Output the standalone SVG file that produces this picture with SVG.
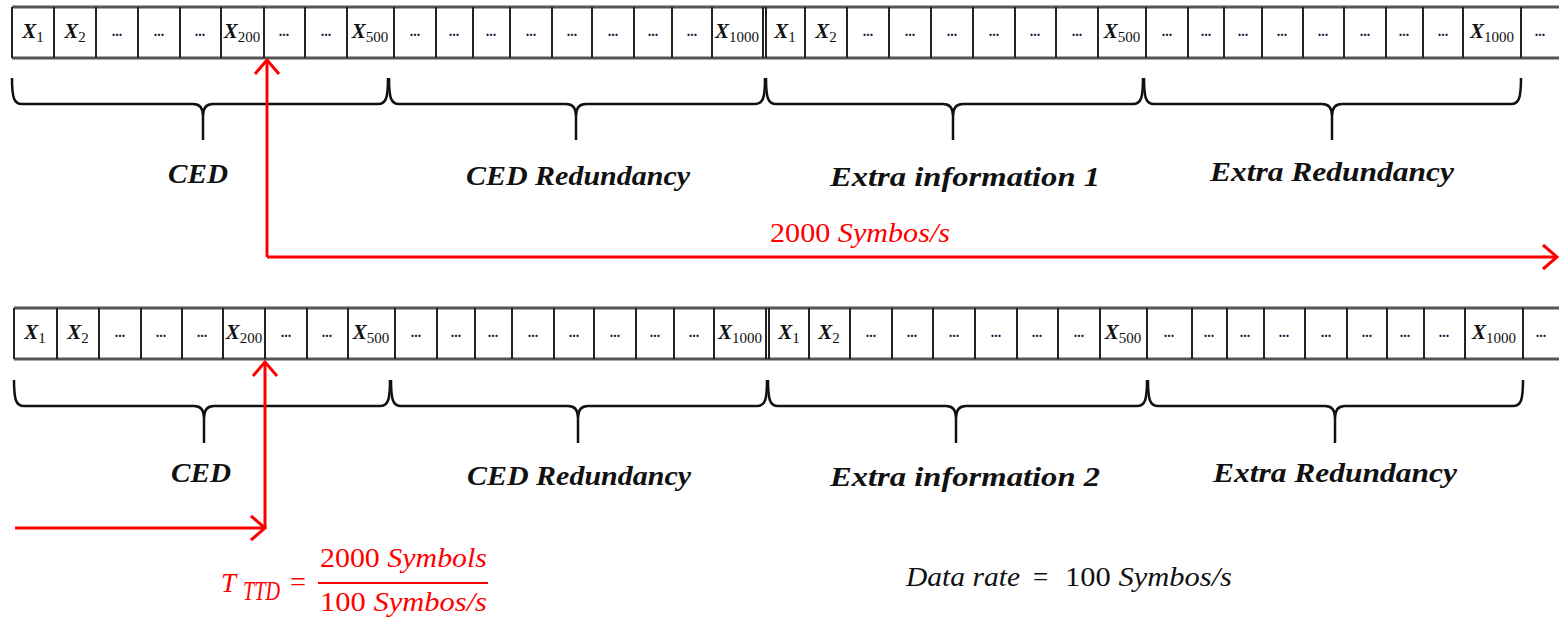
<svg xmlns="http://www.w3.org/2000/svg" width="1559" height="621" viewBox="0 0 1559 621">
<style>
.gh{stroke:#555;stroke-width:3}
.gv{stroke:#222;stroke-width:2}
.x{font-family:"Liberation Serif",serif;font-style:italic;font-weight:bold;font-size:21px;fill:#111;text-anchor:middle}
.sub{font-style:normal;font-weight:normal;font-size:15px}
.d{font-family:"Liberation Serif",serif;font-weight:bold;font-size:14px;fill:#1a1a3a;text-anchor:middle}
.brace{fill:none;stroke:#111;stroke-width:2.5}
.lbl{font-family:"Liberation Serif",serif;font-style:italic;font-weight:bold;font-size:27px;fill:#111}
.red{stroke:#ff0000;stroke-width:3;fill:none}
.m{font-family:"Liberation Serif",serif;font-size:27px}
.it{font-style:italic}
</style>
<defs>
<marker id="chev" markerUnits="userSpaceOnUse" viewBox="0 0 18 28" refX="16" refY="14" markerWidth="18" markerHeight="28" orient="auto">
<path d="M2,2 L16,14 L2,26" fill="none" stroke="#ff0000" stroke-width="3"/>
</marker>
</defs>
<rect width="1559" height="621" fill="#fff"/>

<!-- upper symbol row -->
<g id="row1">
<line class="gh" x1="12" y1="7" x2="1559" y2="7"/>
<line class="gh" x1="12" y1="58" x2="1559" y2="58"/>
<g class="gv">
<line x1="12" y1="7" x2="12" y2="58"/><line x1="54" y1="7" x2="54" y2="58"/><line x1="96" y1="7" x2="96" y2="58"/><line x1="138" y1="7" x2="138" y2="58"/><line x1="180" y1="7" x2="180" y2="58"/><line x1="221" y1="7" x2="221" y2="58"/><line x1="264" y1="7" x2="264" y2="58"/><line x1="305" y1="7" x2="305" y2="58"/><line x1="347" y1="7" x2="347" y2="58"/><line x1="394" y1="7" x2="394" y2="58"/>
<line x1="436" y1="7" x2="436" y2="58"/><line x1="473" y1="7" x2="473" y2="58"/><line x1="510" y1="7" x2="510" y2="58"/><line x1="552" y1="7" x2="552" y2="58"/><line x1="592" y1="7" x2="592" y2="58"/><line x1="634" y1="7" x2="634" y2="58"/><line x1="672" y1="7" x2="672" y2="58"/><line x1="712" y1="7" x2="712" y2="58"/><line x1="763" y1="7" x2="763" y2="58"/>
<line x1="766" y1="7" x2="766" y2="58"/><line x1="805" y1="7" x2="805" y2="58"/><line x1="847" y1="7" x2="847" y2="58"/><line x1="889" y1="7" x2="889" y2="58"/><line x1="931" y1="7" x2="931" y2="58"/><line x1="973" y1="7" x2="973" y2="58"/><line x1="1015" y1="7" x2="1015" y2="58"/><line x1="1056" y1="7" x2="1056" y2="58"/><line x1="1098" y1="7" x2="1098" y2="58"/><line x1="1146" y1="7" x2="1146" y2="58"/>
<line x1="1188" y1="7" x2="1188" y2="58"/><line x1="1224" y1="7" x2="1224" y2="58"/><line x1="1262" y1="7" x2="1262" y2="58"/><line x1="1303" y1="7" x2="1303" y2="58"/><line x1="1344" y1="7" x2="1344" y2="58"/><line x1="1386" y1="7" x2="1386" y2="58"/><line x1="1423" y1="7" x2="1423" y2="58"/><line x1="1463" y1="7" x2="1463" y2="58"/><line x1="1521" y1="7" x2="1521" y2="58"/>
</g>
<text class="x" x="33" y="38">X<tspan class="sub" dy="4">1</tspan></text>
<text class="x" x="75" y="38">X<tspan class="sub" dy="4">2</tspan></text>
<text class="d" x="117" y="36">...</text><text class="d" x="159" y="36">...</text><text class="d" x="200" y="36">...</text>
<text class="x" x="242" y="38">X<tspan class="sub" dy="4">200</tspan></text>
<text class="d" x="284" y="36">...</text><text class="d" x="326" y="36">...</text>
<text class="x" x="370" y="38">X<tspan class="sub" dy="4">500</tspan></text>
<text class="d" x="415" y="36">...</text><text class="d" x="454" y="36">...</text><text class="d" x="491" y="36">...</text><text class="d" x="531" y="36">...</text><text class="d" x="572" y="36">...</text><text class="d" x="613" y="36">...</text><text class="d" x="653" y="36">...</text><text class="d" x="692" y="36">...</text>
<text class="x" x="737" y="38">X<tspan class="sub" dy="4">1000</tspan></text>
<text class="x" x="785" y="38">X<tspan class="sub" dy="4">1</tspan></text>
<text class="x" x="826" y="38">X<tspan class="sub" dy="4">2</tspan></text>
<text class="d" x="868" y="36">...</text><text class="d" x="910" y="36">...</text><text class="d" x="952" y="36">...</text><text class="d" x="994" y="36">...</text><text class="d" x="1035" y="36">...</text><text class="d" x="1077" y="36">...</text>
<text class="x" x="1122" y="38">X<tspan class="sub" dy="4">500</tspan></text>
<text class="d" x="1167" y="36">...</text><text class="d" x="1206" y="36">...</text><text class="d" x="1243" y="36">...</text><text class="d" x="1282" y="36">...</text><text class="d" x="1323" y="36">...</text><text class="d" x="1365" y="36">...</text><text class="d" x="1404" y="36">...</text><text class="d" x="1443" y="36">...</text>
<text class="x" x="1492" y="38">X<tspan class="sub" dy="4">1000</tspan></text>
<text class="d" x="1540" y="36">...</text>
</g>

<!-- lower symbol row -->
<g id="row2">
<line class="gh" x1="14" y1="308" x2="1559" y2="308"/>
<line class="gh" x1="14" y1="359" x2="1559" y2="359"/>
<g class="gv">
<line x1="14" y1="308" x2="14" y2="359"/><line x1="57" y1="308" x2="57" y2="359"/><line x1="99" y1="308" x2="99" y2="359"/><line x1="141" y1="308" x2="141" y2="359"/><line x1="182" y1="308" x2="182" y2="359"/><line x1="223" y1="308" x2="223" y2="359"/><line x1="265" y1="308" x2="265" y2="359"/><line x1="307" y1="308" x2="307" y2="359"/><line x1="348" y1="308" x2="348" y2="359"/><line x1="395" y1="308" x2="395" y2="359"/>
<line x1="437" y1="308" x2="437" y2="359"/><line x1="475" y1="308" x2="475" y2="359"/><line x1="512" y1="308" x2="512" y2="359"/><line x1="554" y1="308" x2="554" y2="359"/><line x1="594" y1="308" x2="594" y2="359"/><line x1="636" y1="308" x2="636" y2="359"/><line x1="674" y1="308" x2="674" y2="359"/><line x1="714" y1="308" x2="714" y2="359"/><line x1="766" y1="308" x2="766" y2="359"/>
<line x1="769" y1="308" x2="769" y2="359"/><line x1="809" y1="308" x2="809" y2="359"/><line x1="850" y1="308" x2="850" y2="359"/><line x1="892" y1="308" x2="892" y2="359"/><line x1="933" y1="308" x2="933" y2="359"/><line x1="975" y1="308" x2="975" y2="359"/><line x1="1017" y1="308" x2="1017" y2="359"/><line x1="1058" y1="308" x2="1058" y2="359"/><line x1="1100" y1="308" x2="1100" y2="359"/><line x1="1147" y1="308" x2="1147" y2="359"/>
<line x1="1192" y1="308" x2="1192" y2="359"/><line x1="1227" y1="308" x2="1227" y2="359"/><line x1="1264" y1="308" x2="1264" y2="359"/><line x1="1305" y1="308" x2="1305" y2="359"/><line x1="1347" y1="308" x2="1347" y2="359"/><line x1="1387" y1="308" x2="1387" y2="359"/><line x1="1424" y1="308" x2="1424" y2="359"/><line x1="1465" y1="308" x2="1465" y2="359"/><line x1="1523" y1="308" x2="1523" y2="359"/>
</g>
<text class="x" x="35" y="339">X<tspan class="sub" dy="4">1</tspan></text>
<text class="x" x="78" y="339">X<tspan class="sub" dy="4">2</tspan></text>
<text class="d" x="120" y="337">...</text><text class="d" x="161" y="337">...</text><text class="d" x="202" y="337">...</text>
<text class="x" x="244" y="339">X<tspan class="sub" dy="4">200</tspan></text>
<text class="d" x="286" y="337">...</text><text class="d" x="327" y="337">...</text>
<text class="x" x="371" y="339">X<tspan class="sub" dy="4">500</tspan></text>
<text class="d" x="416" y="337">...</text><text class="d" x="456" y="337">...</text><text class="d" x="493" y="337">...</text><text class="d" x="533" y="337">...</text><text class="d" x="574" y="337">...</text><text class="d" x="615" y="337">...</text><text class="d" x="655" y="337">...</text><text class="d" x="694" y="337">...</text>
<text class="x" x="740" y="339">X<tspan class="sub" dy="4">1000</tspan></text>
<text class="x" x="789" y="339">X<tspan class="sub" dy="4">1</tspan></text>
<text class="x" x="829" y="339">X<tspan class="sub" dy="4">2</tspan></text>
<text class="d" x="871" y="337">...</text><text class="d" x="912" y="337">...</text><text class="d" x="954" y="337">...</text><text class="d" x="996" y="337">...</text><text class="d" x="1037" y="337">...</text><text class="d" x="1079" y="337">...</text>
<text class="x" x="1123" y="339">X<tspan class="sub" dy="4">500</tspan></text>
<text class="d" x="1169" y="337">...</text><text class="d" x="1209" y="337">...</text><text class="d" x="1245" y="337">...</text><text class="d" x="1284" y="337">...</text><text class="d" x="1326" y="337">...</text><text class="d" x="1367" y="337">...</text><text class="d" x="1405" y="337">...</text><text class="d" x="1444" y="337">...</text>
<text class="x" x="1494" y="339">X<tspan class="sub" dy="4">1000</tspan></text>
<text class="d" x="1541" y="337">...</text>
</g>

<!-- braces grouping each block of symbols -->
<g id="braces1" class="brace">
<path d="M12,78 C12,98 14,104 22,104 H193 C200,104 203,108 203,116 V140 M203,116 C203,108 206,104 213,104 H378 C386,104 388,98 388,78"/>
<path d="M389,78 C389,98 391,104 399,104 H566 C573,104 576,108 576,116 V140 M576,116 C576,108 579,104 586,104 H755 C763,104 765,98 765,78"/>
<path d="M766,78 C766,98 768,104 776,104 H943 C950,104 953,108 953,116 V140 M953,116 C953,108 956,104 963,104 H1133 C1141,104 1143,98 1143,78"/>
<path d="M1144,78 C1144,98 1146,104 1154,104 H1322 C1329,104 1332,108 1332,116 V140 M1332,116 C1332,108 1335,104 1342,104 H1511 C1519,104 1521,98 1521,78"/>
</g>
<g id="braces2" class="brace">
<path d="M14,380 C14,400 16,406 24,406 H194 C201,406 204,410 204,418 V443 M204,418 C204,410 207,406 214,406 H380 C388,406 390,400 390,380"/>
<path d="M391,380 C391,400 393,406 401,406 H568 C575,406 578,410 578,418 V443 M578,418 C578,410 581,406 588,406 H757 C765,406 767,400 767,380"/>
<path d="M768,380 C768,400 770,406 778,406 H946 C953,406 956,410 956,418 V443 M956,418 C956,410 959,406 966,406 H1137 C1145,406 1147,400 1147,380"/>
<path d="M1148,380 C1148,400 1150,406 1158,406 H1325 C1332,406 1335,410 1335,418 V443 M1335,418 C1335,410 1338,406 1345,406 H1513 C1521,406 1523,400 1523,380"/>
</g>

<!-- block names -->
<g id="labels1">
<text class="lbl" x="168" y="183" textLength="60" lengthAdjust="spacingAndGlyphs">CED</text>
<text class="lbl" x="466" y="185" textLength="224" lengthAdjust="spacingAndGlyphs">CED Redundancy</text>
<text class="lbl" x="830" y="186" textLength="270" lengthAdjust="spacingAndGlyphs">Extra information 1</text>
<text class="lbl" x="1210" y="181" textLength="244" lengthAdjust="spacingAndGlyphs">Extra Redundancy</text>
</g>
<g id="labels2">
<text class="lbl" x="171" y="482" textLength="60" lengthAdjust="spacingAndGlyphs">CED</text>
<text class="lbl" x="467" y="485" textLength="224" lengthAdjust="spacingAndGlyphs">CED Redundancy</text>
<text class="lbl" x="830" y="486" textLength="270" lengthAdjust="spacingAndGlyphs">Extra information 2</text>
<text class="lbl" x="1213" y="482" textLength="244" lengthAdjust="spacingAndGlyphs">Extra Redundancy</text>
</g>

<!-- timing arrows -->
<g id="connectors">
<path class="red" d="M267,257 V60" marker-end="url(#chev)"/>
<path class="red" d="M267,257 H1557" marker-end="url(#chev)"/>
<path class="red" d="M15,528 H265" marker-end="url(#chev)"/>
<path class="red" d="M265,528 V362" marker-end="url(#chev)"/>
</g>

<g id="rate" fill="#ff0000">
<text class="m" x="770" y="242" textLength="180" lengthAdjust="spacingAndGlyphs">2000 <tspan class="it">Symbos/s</tspan></text>
</g>

<!-- delay formula -->
<g id="formula" fill="#ff0000">
<text class="m it" x="221" y="592" font-size="32">T</text>
<text class="m it" x="243" y="600" font-size="20" textLength="37" lengthAdjust="spacingAndGlyphs">TTD</text>
<text class="m" x="290" y="591" font-size="28" textLength="16" lengthAdjust="spacingAndGlyphs">=</text>
<text class="m" x="320" y="567" textLength="167" lengthAdjust="spacingAndGlyphs">2000 <tspan class="it">Symbols</tspan></text>
<line x1="318" y1="583" x2="488" y2="583" stroke="#ff0000" stroke-width="2"/>
<text class="m" x="320" y="611" textLength="167" lengthAdjust="spacingAndGlyphs">100 <tspan class="it">Symbos/s</tspan></text>
</g>

<g id="datarate" fill="#111">
<text class="m it" x="906" y="586" textLength="114" lengthAdjust="spacingAndGlyphs">Data rate</text>
<text class="m" x="1033" y="586">=</text>
<text class="m" x="1065" y="586" textLength="167" lengthAdjust="spacingAndGlyphs">100 <tspan class="it">Symbos/s</tspan></text>
</g>
</svg>
